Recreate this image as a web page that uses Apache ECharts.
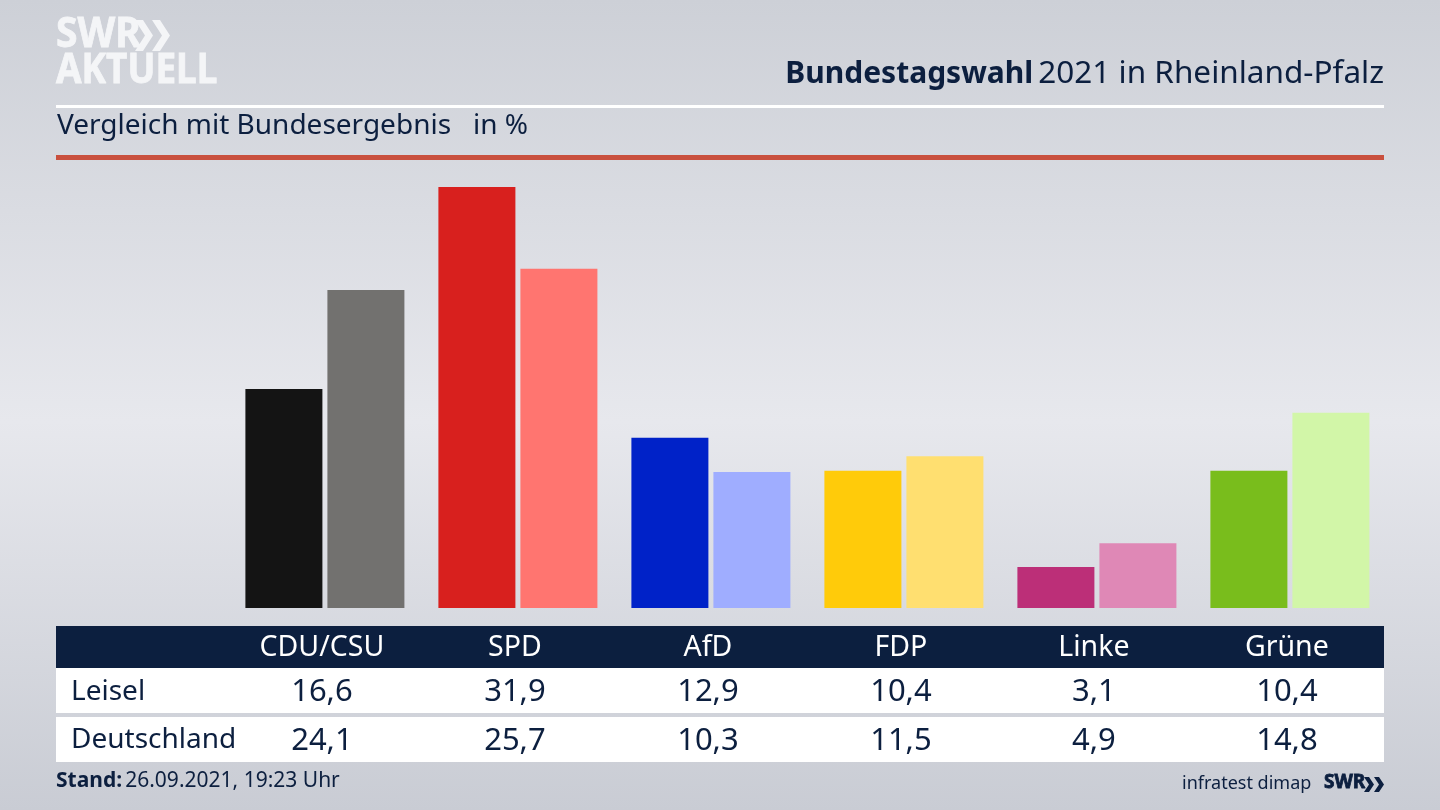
<!DOCTYPE html>
<html><head><meta charset="utf-8">
<style>html,body{margin:0;padding:0;width:1440px;height:810px;overflow:hidden}#c{width:1440px;height:810px}</style>
<script src="https://cdn.jsdelivr.net/npm/echarts@6/dist/echarts.min.js"></script>
</head><body><div id="c"></div>
<script>
const parties = ['CDU/CSU','SPD','AfD','FDP','Linke','Grüne'];
const leisel = [16.6,31.9,12.9,10.4,3.1,10.4];
const deutschland = [24.1,25.7,10.3,11.5,4.9,14.8];
const leiselColors = ['#141414','#d8201e','#0022c8','#ffcb0a','#bc2f78','#79bd1c'];
const deutschlandColors = ['#72716f','#ff7570','#9fadff','#ffdf70','#df88b6','#d2f6a8'];
const rowNames = ['Leisel','Deutschland'];
const NAVY = '#0c1f3f', FONT = '"Noto Sans"', LOGO = '#f4f5f7';
const fmt = v => String(v).replace('.', ',');
const chart = echarts.init(document.getElementById('c'), null, {renderer:'canvas'});
const hiddenX = (data, margin, color, fontSize) => ({
  type:'category', data, position:'bottom', gridIndex:0,
  axisLine:{show:false}, axisTick:{show:false}, splitLine:{show:false},
  axisLabel:{show:true, interval:0, margin, color, fontFamily:FONT, fontSize, verticalAlign:'middle', align:'center', padding:[0,6,0,0]}
});
const text = (left, top, t, style) => ({type:'text', left, top, z:5, style:Object.assign({text:t, fill:NAVY, fontFamily:FONT}, style)});
const rect = (x,y,w,h,fill,z=0) => ({type:'rect', shape:{x,y,width:w,height:h}, style:{fill}, z, silent:true});
const chevron = (x,y,h,d,t,fill) => ({type:'polygon', z:5, silent:true, style:{fill},
  shape:{points:[[x,y],[x+t,y],[x+t+d,y+h/2],[x+t,y+h],[x,y+h],[x+d,y+h/2]]}});
const logoText = (x,y,t,fontSize,sx,fill) => ({type:'text', x, y, scaleX:sx, z:5, silent:true,
  style:{text:t, fill, stroke:fill, lineWidth:0.8, fontFamily:FONT, fontWeight:'bold', fontSize}});
chart.setOption({
  animation:false,
  backgroundColor:new echarts.graphic.LinearGradient(0,0,0,1,[
    {offset:0,color:'#cdd0d7'},{offset:0.52,color:'#e7e8ed'},{offset:1,color:'#c9ccd4'}]),
  title:[{
    text:'{b|Bundestagswahl} {r|2021 in Rheinland-Pfalz}', right:56, top:58, padding:0,
    textStyle:{rich:{
      b:{fontFamily:FONT,fontSize:30,fontWeight:'bold',color:NAVY},
      r:{fontFamily:FONT,fontSize:31.5,fontWeight:'normal',color:NAVY}}}
  },{
    text:'Vergleich mit Bundesergebnis   in %', left:57, top:112, padding:0,
    textStyle:{fontFamily:FONT,fontSize:28,fontWeight:'normal',color:NAVY}
  }],
  grid:{left:228.4,width:1158,top:80,height:528},
  xAxis:[
    hiddenX(parties,40,'#ffffff',28.5),
    hiddenX(leisel.map(fmt),84,NAVY,31),
    hiddenX(deutschland.map(fmt),133,NAVY,31)
  ],
  yAxis:{type:'value',min:0,max:40,show:false},
  series:[
    {type:'bar',name:rowNames[0],data:leisel,barWidth:77,barGap:'6.5%',xAxisIndex:0,
     itemStyle:{color:p=>leiselColors[p.dataIndex]},silent:true},
    {type:'bar',name:rowNames[1],data:deutschland,barWidth:77,xAxisIndex:0,
     itemStyle:{color:p=>deutschlandColors[p.dataIndex]},silent:true}
  ],
  graphic:[
    rect(56,105,1328,3,'#ffffff'),
    rect(56,155,1328,5,'#c9503e'),
    rect(56,626,1328,42,NAVY,-1),
    rect(56,668,1328,45,'#ffffff',-1),
    rect(56,717,1328,45,'#ffffff',-1),
    logoText(56,14,'SWR',42,0.93,LOGO),
    chevron(135,20,31,10,8,LOGO),
    chevron(152,20,31,10,8,LOGO),
    logoText(56,50,'AKTUELL',42,0.88,LOGO),
    text(71,678,rowNames[0],{fontSize:28}),
    text(71,726,rowNames[1],{fontSize:28}),
    text(56,771,'',{rich:{b:{fontFamily:FONT,fontSize:21,fontWeight:'bold',fill:NAVY},n:{fontFamily:FONT,fontSize:21,fill:NAVY}},text:'{b|Stand:} {n|26.09.2021, 19:23 Uhr}'}),
    text(1182,775,'infratest dimap',{fontSize:18}),
    logoText(1324,772,'SWR',20,0.95,NAVY),
    chevron(1364,777,15,5,5,NAVY),
    chevron(1374,777,15,5,5,NAVY)
  ]
});
</script></body></html>
